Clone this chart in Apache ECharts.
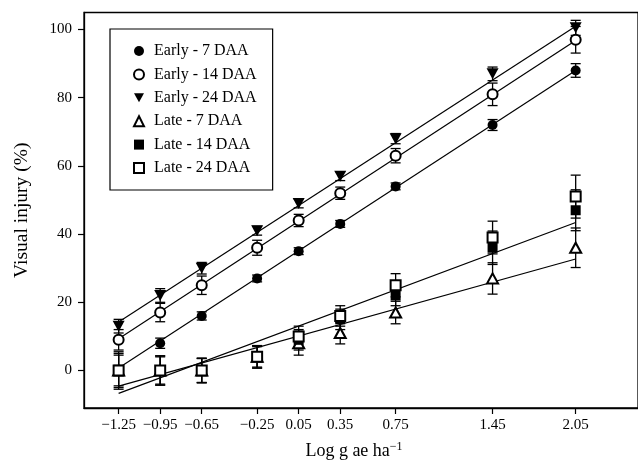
<!DOCTYPE html>
<html>
<head>
<meta charset="utf-8">
<script src="https://cdn.jsdelivr.net/npm/echarts@6/dist/echarts.min.js"></script>
<style>
html,body{margin:0;padding:0;background:#fff;}
#chart{width:638px;height:465px;}
</style>
</head>
<body>
<div id="chart"></div>
<script>
// ---- data ----
const xValues = [-1.25, -0.95, -0.65, -0.25, 0.05, 0.35, 0.75, 1.45, 2.05];
const xTickLabels = ['\u22121.25', '\u22120.95', '\u22120.65', '\u22120.25', '0.05', '0.35', '0.75', '1.45', '2.05'];
const yTicks = [0, 20, 40, 60, 80, 100];

const seriesNames = ['Early - 7 DAA', 'Early - 14 DAA', 'Early - 24 DAA', 'Late - 7 DAA', 'Late - 14 DAA', 'Late - 24 DAA'];

const early7 = [0, 8, 16, 27, 35, 43, 54, 72, 88];
const early7Err = [1.5, 1.5, 1.2, 1, 1, 1, 1, 1.6, 2];
const early14 = [9, 17, 25, 36, 44, 52, 63, 81, 97];
const early14Err = [3, 2.7, 2.7, 2.2, 1.8, 1.8, 2.1, 3.3, 3.9];
const early24 = [13, 22, 30, 41, 49, 57, 68, 87, 100.5];
const early24Err = [2, 2, 1.7, 1.3, 1.3, 1.3, 1.5, 2, 2.2];
const late7 = [0, 0, 0, 4, 8, 11, 17, 27, 36];
const late7Err = [5, 4.3, 3.6, 3.3, 3.5, 3.2, 3.3, 4.6, 5.8];
const late14 = [0, 0, 0, 4, 9, 15, 22, 36, 47];
const late14Err = [4.5, 4, 3.5, 3, 3, 3, 3, 4.9, 6];
const late24 = [0, 0, 0, 4, 10, 16, 25, 39, 51];
const late24Err = [5.5, 4.3, 3.6, 3.3, 3, 3, 3.4, 4.8, 6.3];

// fitted regression lines (end points)
const fitEarly7 = [[-1.25, 0.7], [2.05, 88]];
const fitEarly14 = [[-1.25, 9.3], [2.05, 96.8]];
const fitEarly24 = [[-1.25, 14.2], [2.05, 101]];
const fitLate7 = [[-1.25, -4.6], [2.05, 32.7]];
const fitLate1424 = [[-1.25, -6.7], [2.05, 43.4]];

// ---- build ----
const values = [early7, early14, early24, late7, late14, late24];
const errs = [early7Err, early14Err, early24Err, late7Err, late14Err, late24Err];
const symbols = ['circle', 'emptyCircle', 'path://M0,0 L10,0 L5,9 Z', 'emptyTriangle', 'rect', 'emptyRect'];
const symbolSizes = [10, 10, [12, 11], [11, 10], 10, 10];
const hollow = [false, true, false, true, false, true];

const FONT = '"Liberation Serif", "Times New Roman", serif';
const series = [];

[fitEarly7, fitEarly14, fitEarly24, fitLate7, fitLate1424].forEach(function (f) {
  series.push({
    type: 'line', data: f, symbol: 'none', silent: true,
    lineStyle: { color: '#000', width: 1.2 }, z: 1
  });
});

values.forEach(function (vals, i) {
  const eb = xValues.map(function (x, k) { return [x, vals[k], errs[i][k]]; });
  series.push({
    type: 'custom', silent: true, z: 2,
    data: eb,
    renderItem: function (params, api) {
      const x = api.value(0), y = api.value(1), e = api.value(2);
      const top = api.coord([x, y + e]);
      const bot = api.coord([x, y - e]);
      const hw = 5;
      const st = { stroke: '#000', lineWidth: 1.3 };
      return {
        type: 'group', children: [
          { type: 'line', shape: { x1: top[0], y1: top[1], x2: bot[0], y2: bot[1] }, style: st },
          { type: 'line', shape: { x1: top[0] - hw, y1: top[1], x2: top[0] + hw, y2: top[1] }, style: st },
          { type: 'line', shape: { x1: bot[0] - hw, y1: bot[1], x2: bot[0] + hw, y2: bot[1] }, style: st }
        ]
      };
    }
  });
});

values.forEach(function (vals, i) {
  series.push({
    name: seriesNames[i], type: 'scatter', z: 3,
    symbol: symbols[i], symbolSize: symbolSizes[i],
    itemStyle: hollow[i] ? { color: '#000', borderColor: '#000', borderWidth: 1.2, opacity: 1 } : { color: '#000', opacity: 1 },
    data: xValues.map(function (x, k) { return [x, vals[k]]; })
  });
});

const chart = echarts.init(document.getElementById('chart'), null, { renderer: 'canvas' });
chart.setOption({
  animation: false,
  backgroundColor: '#fff',
  grid: { left: 84, right: -10, top: 12.5, bottom: 55, show: true, borderColor: '#000', borderWidth: 1.3, backgroundColor: 'transparent' },
  legend: {
    data: seriesNames.map(function (n, i) {
      return hollow[i]
        ? { name: n, icon: symbols[i], itemStyle: { color: '#000', borderColor: '#000', borderWidth: 1.2 } }
        : { name: n };
    }),
    orient: 'vertical', left: 110, top: 29,
    itemWidth: 10, itemHeight: 10, itemGap: 7.4,
    padding: [14, 16, 14, 23],
    borderColor: '#000', borderWidth: 1.2,
    textStyle: { fontFamily: FONT, fontSize: 16, color: '#000', padding: [0, 0, 0, 5] }
  },
  xAxis: {
    type: 'value', min: -1.5, max: 2.5,
    name: 'Log g ae ha{sup|\u22121}', nameLocation: 'middle', nameGap: 33,
    nameTextStyle: { fontFamily: FONT, fontSize: 18, color: '#000', padding: [0, 14, 0, 0],
      rich: { sup: { fontFamily: FONT, fontSize: 12, verticalAlign: 'top', padding: [0, 0, 8, 0] } } },
    splitLine: { show: false },
    axisLine: { onZero: false, lineStyle: { color: '#000', width: 1.3 } },
    axisTick: { show: true, inside: false, length: 6, customValues: xValues, lineStyle: { color: '#000', width: 1.2 } },
    axisLabel: {
      customValues: xValues, margin: 10, fontFamily: FONT, fontSize: 15, color: '#000',
      formatter: function (v) { const k = xValues.indexOf(v); return k >= 0 ? xTickLabels[k] : ''; }
    }
  },
  yAxis: {
    type: 'value', min: -11, max: 105,
    name: 'Visual injury (%)', nameLocation: 'middle', nameGap: 52, nameRotate: 90,
    nameTextStyle: { fontFamily: FONT, fontSize: 19.5, color: '#000' },
    splitLine: { show: false },
    axisLine: { onZero: false, lineStyle: { color: '#000', width: 1.3 } },
    axisTick: { show: true, inside: false, length: 6, customValues: yTicks, lineStyle: { color: '#000', width: 1.2 } },
    axisLabel: { customValues: yTicks, margin: 12, fontFamily: FONT, fontSize: 15, color: '#000' }
  },
  series: series
});
</script>
</body>
</html>
